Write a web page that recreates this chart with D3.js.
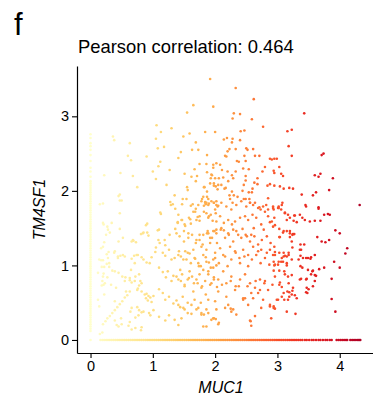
<!DOCTYPE html>
<html>
<head>
<meta charset="utf-8">
<script src="https://cdn.jsdelivr.net/npm/d3@7"></script>
<style>
  html, body { margin: 0; padding: 0; background: #fff; }
  svg { display: block; font-family: "Liberation Sans", Arial, Helvetica, sans-serif; }
</style>
</head>
<body>
<svg id="chart" width="373" height="399"></svg>
<script>
// Panel label and title
const panelLabel = "f";
const titleText = "Pearson correlation: 0.464";
const xLabel = "MUC1";
const yLabel = "TM4SF1";
const xTicks = [0, 1, 2, 3, 4];
const yTicks = [0, 1, 2, 3];

// Cells with both genes detected: [MUC1, TM4SF1] (log-normalised expression)
const cells = [
  [1.92,3.50],[1.65,3.15],[1.97,3.13],[1.55,3.05],[1.06,2.88],[0.36,2.73],[0.38,2.68],[1.13,2.79],[1.30,2.84],[1.49,2.73],
  [1.59,2.77],[1.84,2.79],[2.00,2.79],[1.05,2.70],[0.63,2.64],[1.69,2.65],[1.08,2.57],[1.18,2.59],[1.63,2.55],[1.73,2.55],
  [1.45,2.52],[1.87,2.48],[0.60,2.47],[0.90,2.46],[1.41,2.44],[0.65,2.41],[1.12,2.39],[1.09,2.33],[1.75,2.36],[1.67,2.29],
  [1.97,2.35],[2.02,2.37],[1.27,2.28],[1.00,2.26],[0.22,2.21],[0.48,2.24],[1.51,2.23],[1.62,2.19],[1.71,2.20],[1.87,2.25],
  [1.94,2.22],[0.68,2.20],[1.05,2.16],[1.69,2.13],[1.93,2.17],[1.98,2.10],[1.22,2.08],[0.75,2.05],[1.55,2.05],[1.56,2.01],
  [1.82,2.05],[2.01,2.06],[2.04,2.02],[1.35,1.94],[0.45,1.93],[0.47,1.95],[0.47,1.87],[0.50,1.87],[1.48,1.89],[1.54,1.89],
  [1.79,1.89],[1.89,1.89],[1.84,1.85],[0.15,1.82],[0.20,1.83],[1.28,1.85],[1.32,1.82],[1.64,1.82],[1.73,1.81],[1.85,1.82],
  [1.90,1.83],[1.98,1.84],[2.04,1.79],
  [2.33,3.38],[2.62,3.23],[3.43,3.04],[2.30,3.04],[2.40,3.03],[2.28,2.97],[2.59,2.96],[2.77,2.86],[2.41,2.80],[2.47,2.81],
  [3.16,2.80],[3.23,2.82],[2.14,2.69],[2.19,2.71],[2.28,2.70],[2.27,2.65],[2.40,2.68],[3.18,2.60],[2.23,2.56],[2.20,2.53],
  [2.33,2.56],[2.50,2.57],[2.52,2.55],[2.61,2.56],[3.71,2.48],[3.74,2.50],[2.16,2.47],[2.18,2.46],[2.47,2.47],[2.64,2.47],
  [2.71,2.47],[3.23,2.47],[2.88,2.43],[2.91,2.42],[2.95,2.43],[2.99,2.43],[2.35,2.40],[2.38,2.39],[2.49,2.40],[1.86,2.36],
  [2.08,2.35],[1.97,2.31],[2.11,2.28],[2.20,2.26],[2.33,2.26],[2.45,2.30],[2.54,2.29],[2.80,2.32],[3.03,2.32],[2.94,2.27],
  [2.95,2.24],[2.76,2.26],[3.06,2.23],[3.09,2.20],[3.60,2.21],[3.66,2.19],[3.69,2.23],[3.89,2.17],[1.95,2.21],[2.00,2.17],
  [2.06,2.17],[2.13,2.18],[2.21,2.13],[2.29,2.17],[2.27,2.21],[2.49,2.20],[2.49,2.14],[2.46,2.08],[2.68,2.17],[2.63,2.11],
  [2.68,2.09],[2.84,2.07],[2.88,2.09],[2.95,2.07],[3.04,2.06],[3.10,2.03],[3.19,2.04],[3.25,2.03],[3.39,1.95],[3.57,1.94],
  [3.62,1.98],[3.83,2.01],[4.32,1.81],[1.83,2.05],[1.87,1.99],[1.92,2.10],[1.98,2.07],[2.05,2.08],[2.10,2.08],[2.15,2.03],
  [2.17,2.04],[2.27,1.99],[2.30,1.94],[2.23,1.94],[2.24,1.89],[2.28,1.84],[2.36,1.92],[2.44,2.00],[2.46,1.89],[2.49,1.89],
  [2.55,1.89],[2.56,1.84],[2.64,1.84],[2.54,1.98],[2.59,1.98],[2.60,2.03],[2.71,1.78],[2.82,1.81],[2.85,1.90],[2.93,1.79],
  [3.02,1.79],[3.08,1.84],[3.45,1.81],[3.66,1.78],[1.81,1.92],[1.87,1.92],[1.84,1.84],[1.89,1.81],[1.98,1.84],[2.02,1.86],
  [2.05,1.80],
  [0.47,1.70],[1.12,1.71],[1.13,1.69],[0.91,1.56],[0.89,1.54],[0.84,1.43],[0.91,1.44],[0.93,1.40],[0.34,1.57],[0.21,1.55],
  [0.27,1.52],[0.31,1.44],[1.08,1.47],[1.10,1.48],[0.52,1.37],[0.45,1.32],[0.66,1.32],[0.69,1.33],[0.73,1.31],[0.81,1.42],
  [0.85,1.44],[0.20,1.25],[0.26,1.15],[0.29,1.18],[0.38,1.17],[0.44,1.10],[0.48,1.13],[0.55,1.12],[0.66,1.09],[0.70,1.13],
  [0.74,1.14],[0.82,1.11],[0.85,1.08],[0.90,1.04],[0.95,1.03],[0.98,1.11],[1.04,1.18],[1.05,1.24],[0.17,1.07],[0.20,1.07],
  [0.26,1.02],[0.18,0.98],[0.22,0.98],[0.30,0.98],[0.35,0.93],[0.39,0.92],[0.45,0.90],[0.21,0.89],[0.27,0.84],[0.19,0.79],
  [0.23,0.76],[0.18,0.73],[0.21,0.74],[0.51,0.85],[0.56,0.84],[0.63,0.80],[0.66,0.77],[0.71,0.79],[0.72,0.85],[0.78,0.88],
  [0.80,0.79],[0.82,0.76],[0.78,0.73],[0.76,0.69],
  [0.20,0.21],[0.24,0.25],[0.27,0.29],[0.31,0.32],[0.35,0.36],[0.39,0.40],[0.43,0.44],[0.47,0.48],[0.51,0.52],[0.55,0.57],
  [0.59,0.60],[0.63,0.65],
  [0.15,0.08],[0.19,0.10],[0.39,0.26],[0.42,0.20],[0.45,0.18],[0.49,0.29],[0.50,0.21],[0.61,0.19],[0.63,0.24],[0.66,0.14],
  [0.72,0.16],[0.81,0.13],[0.82,0.17],[0.75,0.67],[0.82,0.65],[0.87,0.61],[0.90,0.62],[0.93,0.59],[0.96,0.57],[1.01,0.59],
  [0.89,0.56],[0.92,0.53],[0.98,0.51],[0.75,0.44],[0.78,0.40],[0.82,0.37],[0.85,0.38],[0.77,0.33],[0.72,0.30],[0.94,0.36],
  [0.96,0.33],[1.01,0.40],[0.66,0.43],[0.64,0.38],
  [1.09,1.34],[1.11,1.30],[1.19,1.34],[1.20,1.27],[1.27,1.41],[1.36,1.49],[1.40,1.58],[1.47,1.61],[1.52,1.53],[1.50,1.46],
  [1.57,1.43],[1.60,1.62],[1.61,1.56],[1.68,1.72],[1.72,1.65],[1.75,1.60],[1.82,1.80],[1.86,1.70],[1.90,1.66],[1.96,1.60],
  [2.01,1.70],[1.29,1.81],[1.36,1.76],[1.47,1.82],[1.61,1.80],[1.69,1.76],
  [1.16,1.17],[1.20,1.13],[1.26,1.21],[1.30,1.08],[1.35,1.10],[1.42,1.19],[1.45,1.12],[1.52,1.19],[1.54,1.08],[1.59,1.16],
  [1.65,1.21],[1.70,1.34],[1.75,1.41],[1.80,1.28],[1.87,1.43],[1.92,1.37],[1.99,1.46],[2.03,1.30],[1.68,1.09],[1.73,1.03],
  [1.77,0.99],[1.85,1.11],[1.90,1.04],[1.97,1.08],[2.02,1.00],
  [1.10,0.97],[1.16,0.91],[1.21,0.84],[1.24,0.92],[1.30,0.79],[1.33,0.86],[1.41,0.81],[1.44,0.94],[1.47,0.88],[1.51,0.74],
  [1.56,0.81],[1.59,0.92],[1.63,0.85],[1.66,0.76],[1.70,0.81],[1.75,0.88],[1.79,0.72],[1.84,0.79],[1.89,0.92],[1.94,0.76],
  [1.98,0.84],[2.03,0.71],
  [1.10,0.68],[1.16,0.63],[1.20,0.54],[1.26,0.58],[1.33,0.49],[1.38,0.53],[1.44,0.44],[1.48,0.58],[1.51,0.41],[1.56,0.50],
  [1.62,0.35],[1.67,0.54],[1.73,0.43],[1.77,0.50],[1.82,0.34],[1.86,0.18],[1.89,0.54],[1.98,0.29],[2.02,0.41],[2.06,0.23],
  [1.10,0.31],[1.20,0.26],[1.26,0.33],[1.35,0.27],[1.41,0.20],
  [1.78,1.86],[1.86,1.84],[1.94,1.86],[2.02,1.81],[2.10,1.84],[2.18,1.79],[2.26,1.75],[2.34,1.81],[2.42,1.86],[2.50,1.79],
  [2.56,1.84],[2.61,1.81],[2.69,1.77],[2.77,1.79],[2.85,1.75],[2.93,1.77],[3.02,1.77],[3.07,1.81],[3.12,1.71],[3.17,1.68],
  [3.28,1.67],[3.36,1.68],[3.46,1.79],[3.52,1.59],[3.60,1.60],[3.66,1.76],[3.75,1.68],[3.81,1.69],[3.84,1.68],[3.69,1.60],
  [1.81,1.41],[1.89,1.43],[1.97,1.46],[2.02,1.48],[2.10,1.50],[2.14,1.47],[2.21,1.43],[2.29,1.48],[2.37,1.41],[2.44,1.49],
  [2.51,1.39],[2.58,1.41],[2.62,1.50],[2.74,1.55],[2.78,1.48],[2.88,1.58],[2.93,1.52],[3.04,1.38],[3.09,1.44],[3.15,1.46],
  [3.20,1.43],[3.25,1.42],[3.64,1.38],[3.71,1.32],[3.77,1.31],[3.93,1.47],[4.00,1.43],[3.37,1.28],
  [1.78,1.25],[1.86,1.21],[1.92,1.30],[2.00,1.17],[2.08,1.23],[2.16,1.12],[2.24,1.25],[2.32,1.19],[2.39,1.10],[2.45,1.21],
  [2.53,1.14],[2.61,1.25],[2.69,1.19],[2.74,1.21],[2.83,1.17],[2.88,1.21],[2.96,1.14],[3.03,1.17],[3.09,1.05],[3.15,1.12],
  [3.23,1.08],[3.36,1.21],[3.41,1.10],[3.49,1.10],[3.53,1.09],[3.60,1.14],[3.37,0.99],[3.49,0.94],[3.57,0.93],[3.67,0.95],
  [3.75,0.97],[3.91,1.05],[4.12,1.23],[4.09,1.16],[4.00,0.97],
  [1.81,0.94],[1.89,0.88],[1.97,0.97],[2.05,0.81],[2.13,0.92],[2.18,0.76],[2.26,0.85],[2.33,0.72],[2.40,0.81],[2.48,0.88],
  [2.56,0.76],[2.64,0.70],[2.72,0.81],[2.80,0.79],[2.85,0.67],[2.96,0.85],[3.04,0.77],[3.12,0.88],[3.16,0.65],[3.19,0.58],
  [3.25,0.70],[3.36,0.81],[3.46,0.81],[3.50,0.68],[3.60,0.79],[3.46,0.64],[3.62,0.86],[3.87,0.82],[3.87,0.55],[3.93,0.38],
  [3.31,0.56],[3.07,0.58],[2.99,0.54],[2.77,0.54],[2.69,0.63],[2.61,0.56],
  [1.86,0.41],[1.97,0.29],[2.01,0.28],[2.16,0.43],[2.25,0.42],[2.29,0.41],[2.34,0.34],[2.45,0.54],[2.56,0.26],[2.58,0.19],
  [2.64,0.32],[2.88,0.45],[2.94,0.43],[2.90,0.29],[3.15,0.38],[3.29,0.35],[1.81,0.18],[2.05,0.21],[1.78,0.34],
  [3.44,1.61],[3.40,1.64],[3.83,1.34],[3.43,1.28],[3.38,1.21],[3.37,1.13],[3.46,1.10],[3.54,1.11],
  [3.34,1.08],[3.40,0.97],[3.56,0.92],[3.60,0.87],[3.54,0.88],[3.47,0.82],[3.38,0.82],[3.23,0.87],[3.17,0.85],[3.11,0.92],
  [3.03,0.93],[2.94,0.93],[2.96,1.01],[2.94,1.05],[3.02,1.05],[3.07,1.10],[3.12,1.13],[3.10,1.17],[3.18,1.17],[3.15,1.03],
  [3.15,1.00],[3.47,0.70],[3.57,0.72],[3.48,0.63],[3.18,0.76],[3.19,0.64],[3.10,0.63],[3.11,0.54],[3.17,0.54],[3.23,0.61],
  [3.28,0.60],[3.01,0.54],[2.94,0.45],[2.96,0.42],[3.03,0.74],[3.07,0.71],[3.24,0.66],
  [2.94,1.75],[3.01,1.77],[3.06,1.75],[3.12,1.70],[3.15,1.61],[3.20,1.64],[3.27,1.67],[3.26,1.60],[3.31,1.58],[2.95,1.64],
  [2.96,1.54],[3.03,1.49],[3.10,1.46],[3.20,1.46],[3.27,1.42],[3.24,1.41],[3.20,1.38],[3.23,1.32],[3.24,1.24],[3.03,1.38],
  [2.95,1.25],[2.96,1.18],[3.10,1.12],[3.18,1.14],[3.06,1.05],[3.01,1.01],[2.95,1.00],
  [1.41,1.68],[1.46,1.61],[1.40,1.57],[1.51,1.55],[1.58,1.64],[1.65,1.72],[1.70,1.61],[1.75,1.66],[1.82,1.72],[1.89,1.64],
  [1.93,1.68],[2.00,1.75],[2.02,1.59],[2.08,1.66],[2.14,1.57],[2.21,1.61],[2.27,1.55],[2.32,1.59],[2.40,1.64],[2.48,1.66],
  [2.53,1.61],[2.60,1.68],[2.66,1.64],[2.73,1.75],[2.80,1.72],[2.85,1.66],[2.91,1.59],
  [1.38,1.43],[1.43,1.39],[1.50,1.32],[1.57,1.37],[1.63,1.41],[1.69,1.30],[1.75,1.34],[1.88,1.46],[1.95,1.37],[2.02,1.43],
  [2.09,1.48],[2.16,1.37],[2.22,1.41],[2.29,1.32],[2.34,1.46],[2.42,1.37],[2.49,1.41],[2.56,1.32],[2.63,1.39],[2.69,1.28],
  [2.75,1.34],[2.83,1.39],[2.89,1.30],
  [1.41,1.14],[1.49,1.08],[1.56,1.17],[1.61,1.03],[1.67,1.10],[1.74,0.99],[1.81,1.14],[1.86,1.05],[1.93,0.97],[2.00,1.10],
  [2.06,1.03],[2.13,1.14],[2.20,0.99],[2.26,1.08],[2.33,1.17],[2.40,1.03],[2.47,1.12],[2.53,0.99],[2.59,1.08],[2.66,1.14],
  [2.73,1.03],[2.80,1.10],[2.87,1.01],[2.93,1.14],
  [1.38,0.85],[1.45,0.79],[1.51,0.72],[1.58,0.83],[1.65,0.65],[1.72,0.76],[1.78,0.70],[1.85,0.61],[1.92,0.74],[1.98,0.81],
  [2.05,0.65],[2.11,0.74],[2.18,0.58],[2.25,0.79],[2.32,0.67],[2.38,0.72],[2.45,0.56],[2.52,0.72],[2.58,0.63],[2.65,0.79],
  [2.72,0.67],[2.79,0.76],[2.92,0.74],
  [1.41,0.47],[1.49,0.43],[1.56,0.36],[1.46,0.29],[1.62,0.47],[1.70,0.41],[1.78,0.36],[1.89,0.36],[1.94,0.27],[2.00,0.52],
  [2.21,0.47],[2.26,0.38],[2.48,0.56],[2.53,0.47],[2.57,0.25],[2.74,0.43],[2.88,0.47],
  [0.20,1.57],[0.28,1.48],[0.25,1.41],[0.22,1.31],[0.47,1.49],[0.17,1.23],[0.14,1.08],[0.28,1.10],[0.30,1.03],[0.39,1.19],
  [0.44,1.12],[0.52,1.14],[0.12,0.90],[0.20,0.85],[0.22,0.61],[0.12,0.54],[0.14,0.45],[0.33,0.74],[0.41,0.70],[0.39,0.52],
  [0.55,0.79],[0.65,0.94],[0.63,0.83],[0.57,0.65],[0.71,1.03],[0.76,1.14],[0.68,1.34]
];

// Cells with MUC1 only (TM4SF1 = 0): MUC1 values
const muc1Only = [
  0.16,0.19,0.22,0.25,0.28,0.31,0.34,0.37,0.40,0.43,0.46,0.49,0.52,0.55,0.58,0.61,0.64,0.67,0.70,0.73,
  0.76,0.79,0.82,0.85,0.88,0.91,0.94,0.97,1.00,1.03,1.06,1.09,1.12,1.15,1.18,1.21,1.24,1.27,1.30,1.33,
  1.36,1.39,1.42,1.45,1.48,1.51,1.54,1.57,1.60,1.63,1.66,1.69,1.72,1.75,1.78,1.81,1.84,1.87,1.90,1.93,
  1.96,1.99,2.02,2.05,2.08,2.11,2.14,2.17,2.20,2.23,2.26,2.29,2.32,2.35,2.38,2.41,2.44,2.47,2.50,2.53,
  2.56,2.59,2.62,2.65,2.68,2.71,2.74,2.77,2.80,2.83,2.86,2.89,2.92,2.95,2.98,3.01,3.04,3.07,3.10,3.13,
  3.16,3.19,3.22,3.25,3.28,3.31,3.34,3.37,3.40,3.44,3.47,3.51,3.55,3.58,3.62,3.66,3.69,3.73,3.77,3.80,
  3.84,3.87,3.95,3.98,4.01,4.04,4.07,4.10,4.12,4.17,4.20,4.23,4.26,4.29,4.31,4.33
];

// Cells with TM4SF1 only (MUC1 = 0): TM4SF1 values
const tm4sf1Only = [
  0.00,0.12,0.15,0.18,0.21,0.24,0.27,0.30,0.33,0.36,0.39,0.42,0.45,0.48,0.51,0.54,0.57,0.60,0.63,0.66,
  0.69,0.72,0.75,0.78,0.81,0.84,0.87,0.90,0.93,0.96,0.99,1.02,1.05,1.08,1.11,1.14,1.17,1.20,1.23,1.26,
  1.29,1.32,1.35,1.38,1.41,1.44,1.47,1.50,1.53,1.56,1.59,1.62,1.65,1.68,1.71,1.74,1.77,1.80,1.83,1.86,
  1.89,1.92,1.95,1.98,2.01,2.04,2.07,2.10,2.13,2.19,2.26,2.31,2.40,2.48,2.55,2.60,2.64,2.71,2.76
];

const points = []
  .concat(tm4sf1Only.map(v => [0, v]))
  .concat(muc1Only.map(v => [v, 0]))
  .concat(cells);

const svg = d3.select("#chart");

// Panel geometry
const panelLeft = 77, panelRight = 374, panelTop = 66, panelBottom = 353;

const x = d3.scaleLinear().domain([-0.217, 4.55]).range([panelLeft, panelRight]);
const y = d3.scaleLinear().domain([-0.175, 3.675]).range([panelBottom, panelTop]);

// Colour follows MUC1 expression
const colorT = d3.scaleLinear().domain([0, 4.33]).range([0.0, 0.9]);
const color = v => d3.interpolateYlOrRd(colorT(v));

// Points
svg.append("g")
  .selectAll("circle")
  .data(points)
  .join("circle")
  .attr("cx", d => x(d[0]))
  .attr("cy", d => y(d[1]))
  .attr("r", 1.3)
  .attr("fill", d => color(d[0]));

// Axes
const xAxis = svg.append("g")
  .attr("transform", `translate(0,${panelBottom})`)
  .call(d3.axisBottom(x).tickValues(xTicks).tickFormat(d3.format("d")).tickSize(5).tickSizeOuter(0).tickPadding(3));
const yAxis = svg.append("g")
  .attr("transform", `translate(${panelLeft},0)`)
  .call(d3.axisLeft(y).tickValues(yTicks).tickFormat(d3.format("d")).tickSize(5).tickSizeOuter(0).tickPadding(3));

[xAxis, yAxis].forEach(g => {
  g.select(".domain").attr("stroke", "#000").attr("stroke-width", 1.2);
  g.selectAll(".tick line").attr("stroke", "#000").attr("stroke-width", 1.1);
  g.selectAll(".tick text")
    .attr("fill", "#000")
    .style("font-family", "'Liberation Sans', Arial, sans-serif")
    .style("font-size", "14.5px");
});

// Panel letter
svg.append("text")
  .attr("x", 14)
  .attr("y", 35)
  .style("font-size", "31px")
  .attr("fill", "#000")
  .text(panelLabel);

// Title
svg.append("text")
  .attr("x", 78)
  .attr("y", 53)
  .style("font-size", "18.4px")
  .attr("fill", "#000")
  .text(titleText);

// Axis titles
svg.append("text")
  .attr("x", 221)
  .attr("y", 393)
  .attr("text-anchor", "middle")
  .style("font-size", "16px")
  .style("font-style", "italic")
  .attr("fill", "#000")
  .text(xLabel);

svg.append("text")
  .attr("transform", `translate(45,${(panelTop + panelBottom) / 2}) rotate(-90)`)
  .attr("text-anchor", "middle")
  .style("font-size", "16px")
  .style("font-style", "italic")
  .attr("fill", "#000")
  .text(yLabel);
</script>
</body>
</html>
